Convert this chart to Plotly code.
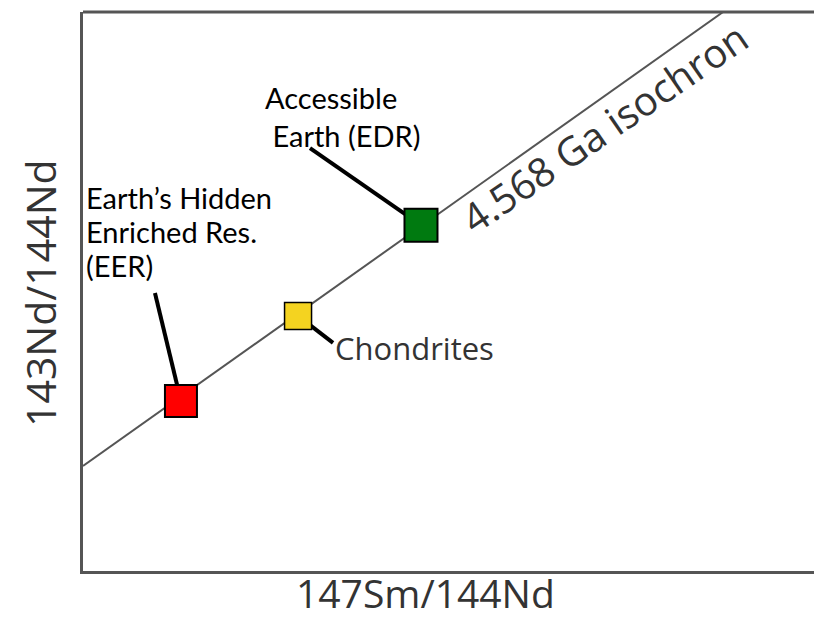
import plotly.graph_objects as go

# ---- data ----
names = ["Earth's Hidden Enriched Res. (EER)", "Chondrites", "Accessible Earth (EDR)"]
sm_nd = [0.18737, 0.19618, 0.20543]          # 147Sm/144Nd
nd_nd = [0.512356, 0.512630, 0.512922]       # 143Nd/144Nd
colors = ["#ff0000", "#f4d320", "#007a10"]
sizes = [32, 27, 33]
border_w = [2, 1.5, 2]

iso_x = [0.1800, 0.22816]                     # 4.568 Ga isochron end points
iso_y = [0.512147, 0.513608]

x_range = [0.1800, 0.2350]
y_range = [0.511809, 0.513608]

eer_lines = ["Earth’s Hidden", "Enriched Res.", "(EER)"]

fig = go.Figure()

fig.add_trace(go.Scatter(x=iso_x, y=iso_y, mode="lines",
                         line=dict(color="#555555", width=2),
                         hoverinfo="skip", showlegend=False))
fig.add_trace(go.Scatter(x=sm_nd, y=nd_nd, mode="markers", text=names,
                         marker=dict(symbol="square", size=sizes, color=colors, opacity=1,
                                     line=dict(color="#000000", width=border_w)),
                         hoverinfo="text", showlegend=False))

# leader lines anchored on the markers (pixel offsets, y up)
leaders = [(0, -26, 108, 4), (1, 35, -27, 4), (2, -111, 77, 4)]
for i, dx, dy, w in leaders:
    fig.add_shape(type="line", xref="x", yref="y",
                  xsizemode="pixel", ysizemode="pixel",
                  xanchor=sm_nd[i], yanchor=nd_nd[i],
                  x0=0, y0=0, x1=dx, y1=dy,
                  line=dict(color="#000000", width=w), layer="below")

# top border
fig.add_shape(type="line", xref="paper", yref="paper", x0=0, x1=1, y0=1, y1=1,
              line=dict(color="#555555", width=3))

W, L, B, T, H = 731, 83, 571, 12, 559
def px(xp): return (xp - L) / W
def py(yp): return (B - yp) / H

label_font = dict(family="Lato, Carlito, sans-serif", size=29, color="#000000")
for k, line in enumerate(eer_lines):
    fig.add_annotation(xref="paper", yref="paper", x=px(84), y=py(198 + 33.5 * k),
                       text=line, showarrow=False,
                       xanchor="left", yanchor="middle", align="left", font=label_font)
fig.add_annotation(xref="paper", yref="paper", x=px(263), y=py(116),
                   text="Accessible<br>\u00a0Earth (EDR)", showarrow=False,
                   xanchor="left", yanchor="middle", align="left", font=label_font)
fig.add_annotation(xref="paper", yref="paper", x=px(333), y=py(348),
                   text="Chondrites", showarrow=False, xanchor="left", yanchor="middle",
                   font=dict(family="Open Sans, sans-serif", size=31, color="#333333"))
fig.add_annotation(xref="paper", yref="paper", x=px(604), y=py(127),
                   text="4.568 Ga isochron", showarrow=False, textangle=-34.5,
                   xanchor="center", yanchor="middle",
                   font=dict(family="Open Sans, sans-serif", size=40, color="#333333"))

# axis titles
fig.add_annotation(xref="paper", yref="paper", x=px(425), y=py(592),
                   text="147Sm/144Nd", showarrow=False, xanchor="center", yanchor="middle",
                   font=dict(family="Open Sans, sans-serif", size=39, color="#333333"))
fig.add_annotation(xref="paper", yref="paper", x=px(40), y=py(293),
                   text="143Nd/144Nd", showarrow=False, textangle=-90,
                   xanchor="center", yanchor="middle",
                   font=dict(family="Open Sans, sans-serif", size=41, color="#333333"))

fig.update_layout(width=814, height=618,
                  margin=dict(l=83, r=0, t=12, b=47),
                  paper_bgcolor="white", plot_bgcolor="white",
                  xaxis=dict(range=x_range, showgrid=False, zeroline=False, showticklabels=False,
                             ticks="", showline=True, linecolor="#555555", linewidth=3),
                  yaxis=dict(range=y_range, showgrid=False, zeroline=False, showticklabels=False,
                             ticks="", showline=True, linecolor="#555555", linewidth=3))

fig.write_html("out.html", config={"displayModeBar": False},
               post_script="document.body.style.margin='0px';document.body.style.overflow='hidden';")
